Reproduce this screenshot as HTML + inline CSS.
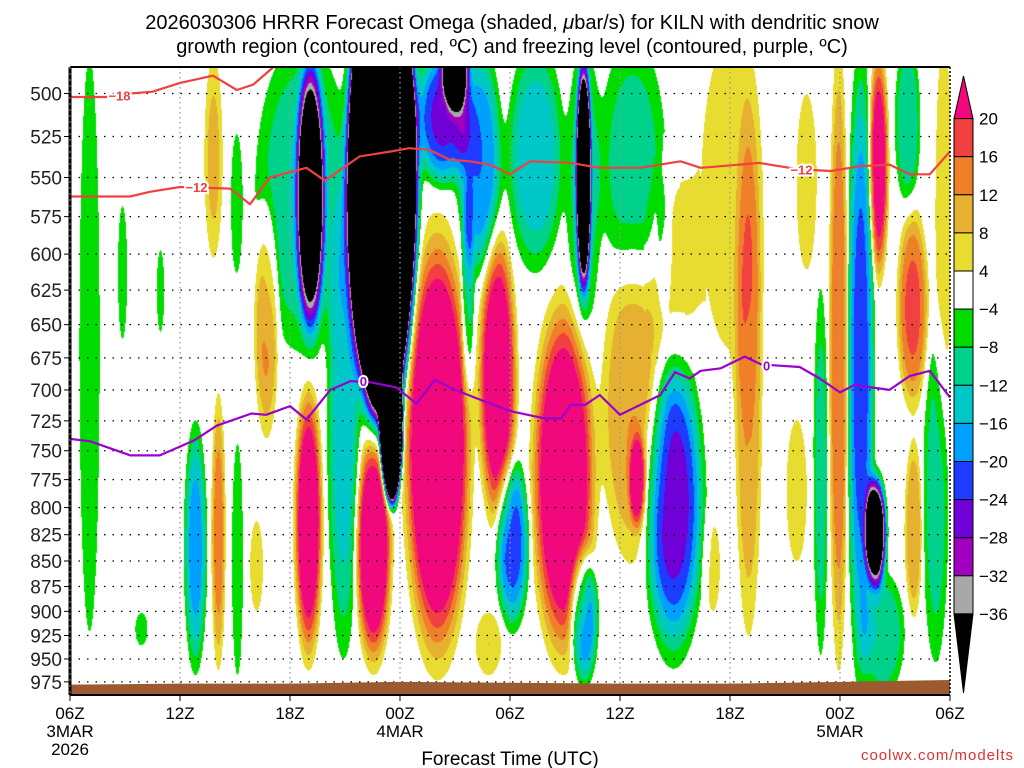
<!DOCTYPE html>
<html><head><meta charset="utf-8">
<style>
html,body{margin:0;padding:0;background:#fff;}
#wrap{position:relative;width:1024px;height:768px;overflow:hidden;font-family:"Liberation Sans",sans-serif;}
canvas,svg{position:absolute;left:0;top:0;}
</style></head>
<body>
<div id="wrap">
<canvas id="field" width="1024" height="768"></canvas>
<svg id="ov" width="1024" height="768">
<text x="512" y="29" text-anchor="middle" font-size="20" fill="#000">2026030306 HRRR Forecast Omega (shaded, <tspan font-style="italic">μ</tspan>bar/s) for KILN with dendritic snow</text>
<text x="512" y="53" text-anchor="middle" font-size="20" fill="#000">growth region (contoured, red, ºC) and freezing level (contoured, purple, ºC)</text>
<text x="510" y="765" text-anchor="middle" font-size="19" fill="#000">Forecast Time (UTC)</text>
<text x="1014" y="760" text-anchor="end" font-size="15" fill="#e03030" letter-spacing="1">coolwx.com/modelts</text>
<g id="grid"></g>
<g id="ground"></g>
<g id="lines"></g>
<g id="axes"></g>
<g id="cbar"></g>
</svg>
</div>
<script>
// ---- data ----
const pressureTicks=[500,525,550,575,600,625,650,675,700,725,750,775,800,825,850,875,900,925,950,975];
const timeTicks=[0,6,12,18,24,30,36,42,48];
const timeLabels=["06Z","12Z","18Z","00Z","06Z","12Z","18Z","00Z","06Z"];
const dateLabels={0:["3MAR","2026"],18:["4MAR"],42:["5MAR"]};
const cbarLevels=[20,16,12,8,4,-4,-8,-12,-16,-20,-24,-28,-32,-36];
const cbarColors=["#f0087c","#f04040","#f08028","#e6b030","#e8dc30","#ffffff","#00dc00","#00d28c","#00c8c8","#00a0ff","#1e3cff","#7000d8","#a000c0","#a8a8a8","#000000"];
// omega features: [time hr, half-width hr, top hPa, bottom hPa, peak μbar/s]
const omegaT=[1.04,2.84,4.91,3.87,6.82,7.8,8.07,9.06,9.11,10.15,10.69,13.09,12.66,12.98,14.89,17.0,17.5,16.53,20.02,20.3,21.0,22.3,21.66,25.37,27.99,27.99,30.66,32.35,23.3,26.9,24.11,27.99,30.66,30.93,33.0,36.0,32.9,36.99,35.02,40.15,39.61,40.92,41.9,43.1,43.92,44.3,44.08,45.66,45.94,45.99,47.19,47.63,22.8];
const omegaW=[0.55,0.25,0.2,0.33,0.65,0.5,0.4,0.3,0.3,0.35,0.7,0.9,2.6,0.85,0.9,2.2,0.75,1.1,2.0,1.6,0.9,1.3,0.35,1.6,0.5,0.9,1.8,0.3,1.15,1.9,1.0,0.85,1.7,0.5,1.0,1.6,1.8,0.75,0.4,0.55,0.55,0.4,0.55,0.8,0.7,1.2,0.6,0.7,0.9,0.5,0.7,0.45,0.7];
const omegaTop=[480,568,597,901,724,480,702,524,744,812,564,470,470,687,561,400,650,722,571,470,450,470,560,470,470,470,470,560,575,620,749,830,599,733,552,470,660,510,812,500,724,624,470,470,763,860,470,470,566,741,661,470,901];
const omegaBot=[920,660,655,935,967,602,962,612,967,899,739,670,670,962,949,760,810,967,973,560,515,620,705,613,640,660,618,630,830,967,923,984,853,821,660,667,960,925,900,610,850,945,963,990,886,990,624,568,718,906,953,700,967];
const omegaAmp=[-7,-5,-5,-5,-18,9,14,-6,-6,5,13,-45,-12,28,-14,-300,-200,30,35,-25,-38,-20,-12,-15,-55,-10,-10,-6,28,30,-22,-22,12,18,5,6,-26,12,5,5,5,-10,16,-22,-50,-12,25,-12,17,12,-10,6,8];
// contour lines: [time hr], [hPa]
const frzT=[0,1.1,3.3,4.9,6.8,8.0,9.9,10.7,12.0,12.9,14.2,15.3,16.4,17.8,18.9,19.9,21.0,22.4,24.0,25.9,26.8,27.3,28.1,28.9,30.0,31.1,32.2,33.0,33.8,34.4,35.5,36.8,37.7,38.7,39.8,40.9,42.0,42.8,43.7,44.7,45.8,46.9,48];
const frzP=[740,742,754,754,741,729,719,720,713,724,700,693,694,698,711,692,700,708,717,723,723,712,712,704,720,712,704,686,691,685,683,674,680,681,682,691,702,696,698,700,689,685,706];
const m18T=[0,2,3.3,4.5,6.0,7.8,9.1,10.0,11.1];
const m18P=[502,502,500,499,494,490,498,495,480];
const m12T=[0,3.27,4.36,6.0,8.73,9.82,10.9,12.9,13.9,15.8,17.5,18.5,19.6,20.7,21.8,22.9,24.0,25.1,27.3,28.9,31.1,33.3,34.4,35.5,37.6,39.8,41.5,43.1,44.7,45.8,46.9,48];
const m12P=[562,562,559,556,557,567,550,544,552,537,534,532,533,539,540,542,548,540,541,544,544,540,544,543,541,545,546,543,542,548,548,534];
const groundT=[0,6,12,18,24,30,36,42,48];
const groundP=[978,977,977,975,976,977,977,975,973];

// ---- axes ----
const X0=70,X1=950,Y0=67,Y1=695;
const xs=t=>X0+t*(X1-X0)/48;
const ys=p=>93.5+881*Math.log(p/500);
const tOf=x=>(x-X0)*48/(X1-X0);
const NS="http://www.w3.org/2000/svg";
function mk(tag,attrs,parent){const e=document.createElementNS(NS,tag);for(const k in attrs)e.setAttribute(k,attrs[k]);parent.appendChild(e);return e;}

// ---- field ----
(function(){
 const c=document.getElementById('field').getContext('2d');
 const W=X1-X0,H=Y1-Y0;const img=c.createImageData(W,H);
 const bl=omegaT.map((t,i)=>{const a=ys(omegaTop[i]),b=ys(omegaBot[i]);return{t,w:omegaW[i],yc:(a+b)/2,hh:(b-a)/2,A:omegaAmp[i],k:Math.log(Math.abs(omegaAmp[i])/4)};});
 const rgb=cbarColors.map(h=>[parseInt(h.substr(1,2),16),parseInt(h.substr(3,2),16),parseInt(h.substr(5,2),16)]);
 for(let py=0;py<H;py++){const y=Y0+py;
  for(let px=0;px<W;px++){const t=tOf(X0+px);let v=0;
   for(const b of bl){const dx=(t-b.t)/b.w;if(dx>1.8||dx<-1.8)continue;const dy=(y-b.yc)/b.hh;const r2=dx*dx+dy*dy;if(r2>3)continue;v+=b.A*Math.exp(-b.k*r2*r2);}
   let idx=cbarLevels.length;for(let j=0;j<cbarLevels.length;j++){if(v>=cbarLevels[j]){idx=j;break;}}
   const col=rgb[idx];const o=(py*W+px)*4;img.data[o]=col[0];img.data[o+1]=col[1];img.data[o+2]=col[2];img.data[o+3]=255;}}
 c.putImageData(img,X0,Y0);
})();

// ---- grid ----
const grid=document.getElementById('grid');
pressureTicks.forEach(p=>{const l=mk('line',{x1:X0,x2:X1,y1:ys(p),y2:ys(p),stroke:'#000','stroke-width':1.3,'stroke-dasharray':'1.5 7'},grid);
 });
timeTicks.forEach(t=>{if(t===0||t===48)return;const l=mk('line',{x1:xs(t),x2:xs(t),y1:Y0,y2:Y1,stroke:'#999','stroke-width':1.3,'stroke-dasharray':'1.5 3.5'},grid);
 });

// ---- ground ----
(function(){const g=document.getElementById('ground');let d='M'+X0+','+Y1;
 groundT.forEach((t,i)=>{d+=' L'+xs(t)+','+ys(groundP[i]);});d+=' L'+X1+','+Y1+'Z';
 const e=mk('path',{d,fill:'#9c5a30'},g);})();

// ---- contour lines ----
const lines=document.getElementById('lines');
function poly(T,P,color,name){let d='';T.forEach((t,i)=>{d+=(i?' L':'M')+xs(t).toFixed(1)+','+Math.max(Y0,ys(P[i])).toFixed(1);});
 const e=mk('path',{d,fill:'none',stroke:color,'stroke-width':2.2,'stroke-linejoin':'round'},lines);}
poly(frzT,frzP,'#9a00d0','freezing-level-line');
poly(m18T,m18P,'#f04040','minus18-line');
poly(m12T,m12P,'#f04040','minus12-line');
function lab(t,p,txt,color,name){const e=mk('text',{x:xs(t),y:ys(p)+5,'text-anchor':'middle','font-size':13,'font-weight':'bold',fill:color,stroke:'#fff','stroke-width':4,'paint-order':'stroke'},lines);e.textContent=txt;}
lab(2.7,501,'−18','#f04040','label-minus18');
lab(6.9,556,'−12','#f04040','label-minus12-a');
lab(39.9,545,'−12','#f04040','label-minus12-b');
lab(16.0,693,'0','#9a00d0','label-zero-a');
lab(38.0,681,'0','#9a00d0','label-zero-b');

// ---- axes ----
const ax=document.getElementById('axes');
mk('line',{x1:X0,x2:X1,y1:Y0,y2:Y0,stroke:'#000','stroke-width':2},ax);
mk('line',{x1:X0,x2:X0,y1:Y0,y2:Y1,stroke:'#000','stroke-width':3},ax);
mk('line',{x1:X0,x2:X0,y1:Y0,y2:Y1,stroke:'#888','stroke-width':1,'stroke-dasharray':'2 4'},ax);
mk('line',{x1:X1,x2:X1,y1:Y0,y2:Y1,stroke:'#000','stroke-width':1.5,'stroke-dasharray':'2 2'},ax);
mk('line',{x1:X0,x2:X1,y1:Y1,y2:Y1,stroke:'#000','stroke-width':2},ax);
pressureTicks.forEach(p=>{mk('line',{x1:X0-6,x2:X0,y1:ys(p),y2:ys(p),stroke:'#000','stroke-width':1},ax);
 const e=mk('text',{x:X0-8,y:ys(p)+7,'text-anchor':'end','font-size':19,fill:'#222'},ax);e.textContent=p;
 });
timeTicks.forEach((t,i)=>{mk('line',{x1:xs(t),x2:xs(t),y1:Y1,y2:Y1+6,stroke:'#000','stroke-width':1},ax);
 const e=mk('text',{x:xs(t),y:719,'text-anchor':'middle','font-size':17,fill:'#000'},ax);e.textContent=timeLabels[i];
 
 (dateLabels[t]||[]).forEach((s,k)=>{const f=mk('text',{x:xs(t),y:737+k*18,'text-anchor':'middle','font-size':17,fill:'#000'},ax);f.textContent=s;
  });});

// ---- colorbar ----
(function(){const g=document.getElementById('cbar');const bx=954,bw=19,top=118.6,step=38.1;
 const tri=mk('path',{d:`M${bx},${top} L${bx+bw/2},76 L${bx+bw},${top}Z`,fill:cbarColors[0],stroke:'#000','stroke-width':1},g);
 
 for(let i=1;i<cbarLevels.length;i++){const r=mk('rect',{x:bx,y:top+(i-1)*step,width:bw,height:step,fill:cbarColors[i],stroke:'#000','stroke-width':1},g);
  }
 const bt=top+(cbarLevels.length-1)*step;
 const tri2=mk('path',{d:`M${bx},${bt} L${bx+bw/2},693 L${bx+bw},${bt}Z`,fill:'#000',stroke:'#000','stroke-width':1},g);
 
 cbarLevels.forEach((v,i)=>{const e=mk('text',{x:979,y:top+i*step+6,'font-size':17,fill:'#000'},g);e.textContent=v<0?'−'+(-v):String(v);
  });})();
</script>
</body></html>
